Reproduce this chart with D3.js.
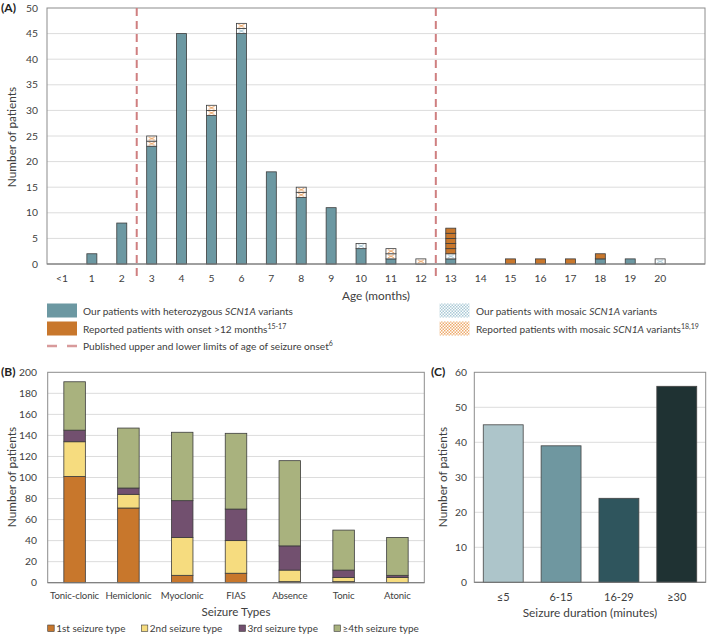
<!DOCTYPE html>
<html><head><meta charset="utf-8">
<script src="https://cdn.jsdelivr.net/npm/d3@7"></script>
<style>
body{margin:0;background:#fff}
svg{display:block}
text{font-family:Lato,"Open Sans",sans-serif;fill:#404040}
</style>
</head><body><svg id="c" width="709" height="636"></svg>
<script>
// ---------- Panel A data ----------
const ageLabels = ["<1","1","2","3","4","5","6","7","8","9","10","11","12","13","14","15","16","17","18","19","20"];
const heterozygous   = [0,2,8,23,45,29,45,18,13,11,3,1,0,1,0,0,0,0,1,1,0];
const mosaicOurs     = [0,0,0,0,0,0,1,0,0,0,1,0,0,1,0,0,0,0,0,0,1];
const mosaicReported = [0,0,0,2,0,2,1,0,2,0,0,2,1,0,0,0,0,0,0,0,0];
const reportedLate   = [0,0,0,0,0,0,0,0,0,0,0,0,0,5,0,1,1,1,1,0,0];
const onsetLimitsBefore = ["3","13"];
const yTicksA = [0,5,10,15,20,25,30,35,40,45,50];

// ---------- Panel B data ----------
const seizureTypes = ["Tonic-clonic","Hemiclonic","Myoclonic","FIAS","Absence","Tonic","Atonic"];
const firstType  = [101,71,7,9,1,1,0];
const secondType = [33,13,36,31,11,4,5];
const thirdType  = [11,6,35,30,23,7,2];
const fourthType = [46,57,65,72,81,38,36];
const yTicksB = [0,20,40,60,80,100,120,140,160,180,200];
const seriesBNames = ["1st seizure type","2nd seizure type","3rd seizure type","\u22654th seizure type"];

// ---------- Panel C data ----------
const durations = ["\u22645","6-15","16-29","\u226530"];
const durationCounts = [45,39,24,56];
const yTicksC = [0,10,20,30,40,50,60];

// ---------- styles ----------
const teal = "#6c98a2", orange = "#c8772c";
const colB = ["#c8772c","#f6dc7f","#72506f","#a9b27e"];
const colC = ["#adc5ca","#6f97a0","#2f555d","#1f3233"];
const gridC = "#dcdcdc", frameC = "#8c8c8c", outline = "#3c3c3c";
const tickFS = 10.3, titleFS = 11.8, legFS = 10.1;

const svg = d3.select("#c");
svg.append("rect").attr("width",709).attr("height",636).attr("fill","#fff");
const defs = svg.append("defs");
function checker(id, col){
  const p = defs.append("pattern").attr("id",id).attr("patternUnits","userSpaceOnUse").attr("width",3).attr("height",3);
  p.append("rect").attr("width",3).attr("height",3).attr("fill","#fff");
  p.append("rect").attr("width",1.5).attr("height",1.5).attr("fill",col);
  p.append("rect").attr("x",1.5).attr("y",1.5).attr("width",1.5).attr("height",1.5).attr("fill",col);
}
checker("chkBlue","#a9c9d6");
checker("chkOrange","#eeab6e");
function crossPat(id,col){
  const p = defs.append("pattern").attr("id",id).attr("patternUnits","objectBoundingBox")
    .attr("patternContentUnits","objectBoundingBox").attr("width",1).attr("height",1);
  p.append("rect").attr("width",1).attr("height",1).attr("fill","#fff");
  p.append("path").attr("d","M0.2,0.15L0.8,0.85M0.8,0.15L0.2,0.85")
    .attr("stroke",col).attr("stroke-width",0.12).attr("fill","none");
}
crossPat("crossBlue","#9cc0cf");
crossPat("crossOrange","#e89a55");

// ================= PANEL A =================
const A = {l:47, r:705, t:8, b:264};
const xA = d3.scaleBand().domain([...ageLabels,"pad"]).range([A.l,A.r]);
const yA = d3.scaleLinear().domain([0,50]).range([A.b,A.t]);
const gA = svg.append("g");
gA.selectAll(".gA").data(yTicksA.filter(d=>d>0&&d<50)).join("line")
  .attr("x1",A.l).attr("x2",A.r).attr("y1",d=>yA(d)).attr("y2",d=>yA(d)).attr("stroke",gridC);
gA.append("rect").attr("x",A.l).attr("y",A.t).attr("width",A.r-A.l).attr("height",A.b-A.t)
  .attr("fill","none").attr("stroke",frameC);
const barWA = 10;
const bxA = i => xA(ageLabels[i]) + xA.bandwidth()/2 - barWA/2;
gA.selectAll(".het").data(heterozygous).join("rect")
  .attr("x",(d,i)=>bxA(i)).attr("y",d=>yA(d)).attr("width",barWA).attr("height",d=>yA(0)-yA(d))
  .attr("fill",teal).attr("stroke",d=>d>0?outline:"none").attr("stroke-width",0.8);
const stackSeries = [
  {vals:mosaicOurs, fill:"url(#crossBlue)"},
  {vals:mosaicReported, fill:"url(#crossOrange)"},
  {vals:reportedLate, fill:orange}
];
const units = [];
ageLabels.forEach((lab,i)=>{
  let base = heterozygous[i];
  stackSeries.forEach(s=>{
    for(let k=0;k<s.vals[i];k++){ units.push({i, y0:base, y1:base+1, fill:s.fill}); base+=1; }
  });
});
gA.selectAll(".unit").data(units).join("rect")
  .attr("x",d=>bxA(d.i)).attr("y",d=>yA(d.y1)).attr("width",barWA).attr("height",d=>yA(d.y0)-yA(d.y1))
  .attr("fill",d=>d.fill).attr("stroke",outline).attr("stroke-width",0.8);
gA.append("line").attr("x1",A.l).attr("x2",A.r).attr("y1",A.b).attr("y2",A.b).attr("stroke","#7a7a7a");
gA.selectAll(".lim").data(onsetLimitsBefore).join("line")
  .attr("x1",d=>xA(d)).attr("x2",d=>xA(d)).attr("y1",A.t).attr("y2",280)
  .attr("stroke","#cf7f80").attr("stroke-width",2).attr("stroke-dasharray","8,5");
gA.selectAll(".yt").data(yTicksA).join("text")
  .attr("x",38).attr("y",d=>yA(d)).attr("dy","0.35em").attr("text-anchor","end")
  .attr("font-size",tickFS).text(d=>d);
gA.selectAll(".xt").data(ageLabels).join("text")
  .attr("x",d=>xA(d)+xA.bandwidth()/2).attr("y",278).attr("dy","0.35em").attr("text-anchor","middle")
  .attr("font-size",tickFS).text(d=>d);
gA.append("text").attr("x",376).attr("y",296).attr("dy","0.35em").attr("text-anchor","middle")
  .attr("font-size",titleFS).text("Age (months)");
gA.append("text").attr("transform","translate(12,137) rotate(-90)").attr("dy","0.35em")
  .attr("text-anchor","middle").attr("font-size",titleFS).text("Number of patients");
gA.append("text").attr("x",1).attr("y",8).attr("dy","0.35em").attr("font-size",12)
  .attr("font-weight","bold").style("fill","#222").text("(A)");

function legText(x,y,parts){
  const t = svg.append("text").attr("x",x).attr("y",y).attr("dy","0.35em").attr("font-size",legFS);
  parts.forEach(p=>{
    const ts = t.append("tspan").text(p.t);
    if(p.i) ts.attr("font-style","italic");
    if(p.s) ts.attr("font-size",7).attr("dy","-0.5em");
  });
}
svg.append("rect").attr("x",47).attr("y",303.5).attr("width",30).attr("height",14).attr("fill",teal);
legText(83,311,[{t:"Our patients with heterozygous "},{t:"SCN1A",i:1},{t:" variants"}]);
svg.append("rect").attr("x",47).attr("y",321.5).attr("width",30).attr("height",14).attr("fill",orange);
legText(83,329,[{t:"Reported patients with onset >12 months"},{t:"15-17",s:1}]);
svg.append("line").attr("x1",47).attr("x2",77).attr("y1",346).attr("y2",346)
  .attr("stroke","#d89a9b").attr("stroke-width",2.5).attr("stroke-dasharray","10,10");
legText(83,346,[{t:"Published upper and lower limits of age of seizure onset"},{t:"6",s:1}]);
svg.append("rect").attr("x",439.5).attr("y",303.5).attr("width",30).attr("height",14).attr("fill","url(#chkBlue)");
legText(476,311,[{t:"Our patients with mosaic "},{t:"SCN1A",i:1},{t:" variants"}]);
svg.append("rect").attr("x",439.5).attr("y",321.5).attr("width",30).attr("height",14).attr("fill","url(#chkOrange)");
legText(476,329,[{t:"Reported patients with mosaic "},{t:"SCN1A",i:1},{t:" variants"},{t:"18,19",s:1}]);

// ================= PANEL B =================
const B = {l:47.7, r:424.3, t:372.3, b:582.7};
const xB = d3.scaleBand().domain(seizureTypes).range([B.l,B.r]);
const yB = d3.scaleLinear().domain([0,200]).range([B.b,B.t]);
const gB = svg.append("g");
gB.selectAll(".gB").data(yTicksB.filter(d=>d>0&&d<200)).join("line")
  .attr("x1",B.l).attr("x2",B.r).attr("y1",d=>yB(d)).attr("y2",d=>yB(d)).attr("stroke",gridC);
gB.append("rect").attr("x",B.l).attr("y",B.t).attr("width",B.r-B.l).attr("height",B.b-B.t)
  .attr("fill","none").attr("stroke",frameC);
const tableB = seizureTypes.map((s,i)=>({type:s, a:firstType[i], b:secondType[i], c:thirdType[i], d:fourthType[i]}));
const stackB = d3.stack().keys(["a","b","c","d"])(tableB);
const barWB = xB.bandwidth()*0.4;
gB.selectAll(".sB").data(stackB).join("g").attr("fill",(d,i)=>colB[i])
  .selectAll("rect").data(d=>d.filter(p=>p[1]-p[0]>0)).join("rect")
  .attr("x",d=>xB(d.data.type)+xB.bandwidth()/2-barWB/2).attr("width",barWB)
  .attr("y",d=>yB(d[1])).attr("height",d=>yB(d[0])-yB(d[1]))
  .attr("stroke",outline).attr("stroke-width",0.8);
gB.append("line").attr("x1",B.l).attr("x2",B.r).attr("y1",B.b).attr("y2",B.b).attr("stroke","#7a7a7a");
gB.selectAll(".yt").data(yTicksB).join("text")
  .attr("x",37).attr("y",d=>yB(d)).attr("dy","0.35em").attr("text-anchor","end")
  .attr("font-size",tickFS).text(d=>d);
gB.selectAll(".xt").data(seizureTypes).join("text")
  .attr("x",d=>xB(d)+xB.bandwidth()/2).attr("y",596).attr("dy","0.35em").attr("text-anchor","middle")
  .attr("font-size",9.6).attr("letter-spacing","-0.1").text(d=>d);
gB.append("text").attr("x",236).attr("y",612).attr("dy","0.35em").attr("text-anchor","middle")
  .attr("font-size",11.6).text("Seizure Types");
gB.append("text").attr("transform","translate(12,477) rotate(-90)").attr("dy","0.35em")
  .attr("text-anchor","middle").attr("font-size",titleFS).text("Number of patients");
gB.append("text").attr("x",1).attr("y",372).attr("dy","0.35em").attr("font-size",12)
  .attr("font-weight","bold").style("fill","#222").text("(B)");
const legBx = [47.7,141.3,239,334];
seriesBNames.forEach((n,i)=>{
  gB.append("rect").attr("x",legBx[i]).attr("y",625).attr("width",6.5).attr("height",6.5)
    .attr("fill",colB[i]).attr("stroke",outline).attr("stroke-width",0.6);
  gB.append("text").attr("x",legBx[i]+8.5).attr("y",628.3).attr("dy","0.35em").attr("font-size",10).text(n);
});

// ================= PANEL C =================
const C = {l:474.3, r:705.7, t:372.3, b:582.3};
const xC = d3.scaleBand().domain(durations).range([C.l,C.r]);
const yC = d3.scaleLinear().domain([0,60]).range([C.b,C.t]);
const gC = svg.append("g");
gC.selectAll(".gC").data(yTicksC.filter(d=>d>0&&d<60)).join("line")
  .attr("x1",C.l).attr("x2",C.r).attr("y1",d=>yC(d)).attr("y2",d=>yC(d)).attr("stroke",gridC);
gC.append("rect").attr("x",C.l).attr("y",C.t).attr("width",C.r-C.l).attr("height",C.b-C.t)
  .attr("fill","none").attr("stroke",frameC);
const barWC = xC.bandwidth()*0.69;
gC.selectAll(".bC").data(durationCounts).join("rect")
  .attr("x",(d,i)=>xC(durations[i])+xC.bandwidth()/2-barWC/2).attr("width",barWC)
  .attr("y",d=>yC(d)).attr("height",d=>yC(0)-yC(d))
  .attr("fill",(d,i)=>colC[i]).attr("stroke","#444").attr("stroke-width",0.8);
gC.append("line").attr("x1",C.l).attr("x2",C.r).attr("y1",C.b).attr("y2",C.b).attr("stroke","#7a7a7a");
gC.selectAll(".yt").data(yTicksC).join("text")
  .attr("x",467).attr("y",d=>yC(d)).attr("dy","0.35em").attr("text-anchor","end")
  .attr("font-size",tickFS).text(d=>d);
gC.selectAll(".xt").data(durations).join("text")
  .attr("x",d=>xC(d)+xC.bandwidth()/2).attr("y",597).attr("dy","0.35em").attr("text-anchor","middle")
  .attr("font-size",11).text(d=>d);
gC.append("text").attr("x",590).attr("y",613).attr("dy","0.35em").attr("text-anchor","middle")
  .attr("font-size",titleFS).text("Seizure duration (minutes)");
gC.append("text").attr("transform","translate(443,477) rotate(-90)").attr("dy","0.35em")
  .attr("text-anchor","middle").attr("font-size",titleFS).text("Number of patients");
gC.append("text").attr("x",431).attr("y",372).attr("dy","0.35em").attr("font-size",12)
  .attr("font-weight","bold").style("fill","#222").text("(C)");
</script>
</body></html>
